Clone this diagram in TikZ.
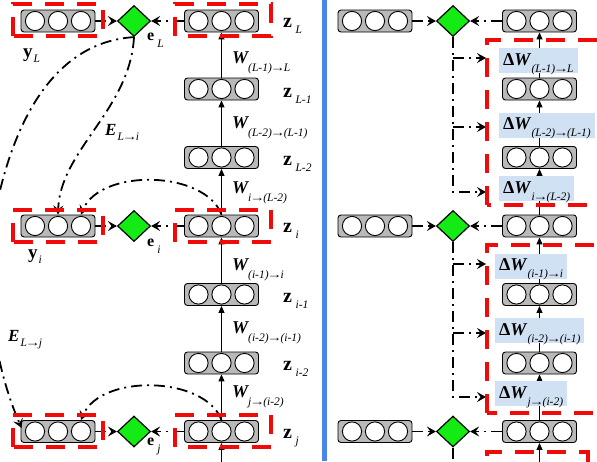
\documentclass[tikz,border=0pt]{standalone}
\usepackage{fontspec}
\usepackage{graphicx}
\setmainfont{Liberation Serif}
\usetikzlibrary{arrows.meta,shapes.geometric}
\definecolor{boxgray}{RGB}{185,185,185}
\definecolor{errgreen}{RGB}{20,235,20}
\definecolor{dwblue}{RGB}{207,225,242}
\definecolor{divblue}{RGB}{74,134,232}
\definecolor{hlred}{RGB}{240,10,10}
% label helpers: bold symbol with a lowered italic index
\newcommand\rarr{\kern-1.5pt\scalebox{1.3}[1.0]{→}\kern-1.5pt}
\newcommand\lblsub[2]{\raisebox{-#1}{\fontsize{11.5}{12}\selectfont\itshape #2}}
\newcommand\lblz[1]{{\fontsize{20}{20}\selectfont\bfseries z}\hspace{3.5pt}\lblsub{6pt}{#1}}
\newcommand\lblw[1]{{\fontsize{18}{20}\selectfont\bfseries\itshape W}\lblsub{8pt}{#1}}
\newcommand\lbldw[1]{{\fontsize{18}{20}\selectfont\bfseries Δ\textit{W}}\lblsub{7pt}{#1}}
\newcommand\lbly[1]{{\fontsize{19}{20}\selectfont\bfseries y}\hspace{1pt}\lblsub{5pt}{#1}}
\newcommand\lble[1]{{\fontsize{16}{16}\selectfont\bfseries e}\hspace{3pt}\lblsub{7pt}{#1}}
\newcommand\lblE[1]{{\fontsize{17}{17}\selectfont\bfseries\itshape E}\hspace{1pt}\lblsub{5pt}{#1}}
\begin{document}
\begin{tikzpicture}[x=1pt,y=-1pt,
  layer/.style={rectangle,rounded corners=3pt,draw=black,line width=0.9pt,fill=boxgray,
    minimum width=74pt,minimum height=22pt,inner sep=0pt,
    path picture={\foreach \dx in {-23,0,23}
      \draw[line width=0.9pt,fill=white] ([xshift=\dx pt]path picture bounding box.center) circle (9.6pt);}},
  errnode/.style={diamond,aspect=1,draw=black,line width=1.2pt,fill=errgreen,
    minimum width=33pt,minimum height=31pt,inner sep=0pt},
  hlbox/.style={draw=hlred,line width=4pt,dash pattern=on 19pt off 13pt},
  dd/.style={line width=1.8pt,dash pattern=on 11pt off 5pt on 2pt off 5pt},
  sarrow/.style={-{Stealth[length=9pt,width=10pt,inset=3.5pt]}},
  uparrow/.style={line width=1pt,-{Triangle[length=7pt,width=6pt]}},
  lbl/.style={anchor=base west,inner sep=0pt},
  dwlabel/.style={anchor=west,fill=dwblue,inner xsep=4pt,inner ysep=3pt,
    text height=14pt,text depth=5pt}
]
\useasboundingbox (0,0) rectangle (597,461);
\clip (0,0) rectangle (597,461);

% ---------- left panel: forward pass with per-layer errors ----------
\node[layer] (yL) at (58,21) {};
\node[errnode] (eL) at (134,21) {};
\node[layer] (zL) at (221.5,21) {};
\node[layer] (zL1) at (221.5,89) {};
\node[layer] (zL2) at (221.5,157.5) {};
\node[layer] (yi) at (58,226) {};
\node[errnode] (ei) at (134,226) {};
\node[layer] (zi) at (221.5,226) {};
\node[layer] (zi1) at (221.5,294.5) {};
\node[layer] (zi2) at (221.5,363) {};
\node[layer] (yj) at (58,431.5) {};
\node[errnode] (ej) at (134,431.5) {};
\node[layer] (zj) at (221.5,431.5) {};
\coordinate (zjin) at (221.5,475);
\coordinate (yi3) at ([xshift=23pt]yi.north);
\coordinate (yj3) at ([xshift=23pt]yj.north);
\coordinate (yjin) at ([shift={(1pt,3.5pt)}]yj.west);

\draw[uparrow] (zL1.north) -- (zL.south);
\draw[uparrow] (zL2.north) -- (zL1.south);
\draw[uparrow] (zi.north) -- (zL2.south);
\draw[uparrow] (zi1.north) -- (zi.south);
\draw[uparrow] (zi2.north) -- (zi1.south);
\draw[uparrow] (zj.north) -- (zi2.south);
\draw[uparrow] (zjin) -- (zj.south);

\foreach \y/\e/\z in {yL/eL/zL, yi/ei/zi, yj/ej/zj}{
  \draw[dd,sarrow] (\y.east) -- (\e.west);
  \draw[dd,sarrow] (\z.west) -- (\e.east);
}

% error targets fed back to lower layers
\draw[dd,sarrow] (eL.south) .. controls (130,110) and (60,150) .. (yi.north);
\draw[dd,sarrow] (eL.south) .. controls (55,42) and (10,120) .. (-8,230)
  .. controls (-16,320) and (3,385) .. (yjin);
\draw[dd,sarrow] (zi.north) .. controls (205,170) and (100,168) .. (yi3);
\draw[dd,sarrow] (zj.north) .. controls (205,375.5) and (100,373.5) .. (yj3);

% labels
\node[lbl] at (23,57) {\lbly{L}};
\node[lbl] at (28,258) {\lbly{i}};
\node[lbl] at (147,40) {\lble{L}};
\node[lbl] at (147,246) {\lble{i}};
\node[lbl] at (147,445) {\lble{j}};
\node[lbl] at (105,135) {\lblE{L\rarr i}};
\node[lbl] at (8,341) {\lblE{L\rarr j}};
\node[lbl] at (283,27) {\lblz{L}};
\node[lbl] at (283,97) {\lblz{L-1}};
\node[lbl] at (283,165) {\lblz{L-2}};
\node[lbl] at (283,232) {\lblz{i}};
\node[lbl] at (283,302) {\lblz{i-1}};
\node[lbl] at (283,370) {\lblz{i-2}};
\node[lbl] at (283,438) {\lblz{j}};
\node[lbl] at (232,63) {\lblw{(L-1)\rarr L}};
\node[lbl] at (232,128) {\lblw{(L-2)\rarr (L-1)}};
\node[lbl] at (232,193) {\lblw{i\rarr (L-2)}};
\node[lbl] at (232,270) {\lblw{(i-1)\rarr i}};
\node[lbl] at (232,333) {\lblw{(i-2)\rarr (i-1)}};
\node[lbl] at (232,397) {\lblw{j\rarr (i-2)}};

% highlighted groups
\draw[hlbox] (13,36) rectangle (103,4);
\draw[hlbox] (175,36) rectangle (271,4);
\draw[hlbox] (13,242) rectangle (103,210);
\draw[hlbox] (175,242) rectangle (271,210);
\draw[hlbox] (13,447) rectangle (103,415);
\draw[hlbox] (175,447) rectangle (271,415);

% divider
\draw[divblue,line width=4.5pt] (324.5,0) -- (324.5,461);

% ---------- right panel: local weight updates ----------
\node[layer] (rL) at (375,21) {};
\node[errnode] (dL) at (453,21) {};
\node[layer] (sL) at (539.5,21) {};
\node[layer] (sL1) at (539.5,89) {};
\node[layer] (sL2) at (539.5,157.5) {};
\node[layer] (ri) at (375,226) {};
\node[errnode] (di) at (453,226) {};
\node[layer] (si) at (539.5,226) {};
\node[layer] (si1) at (539.5,294.5) {};
\node[layer] (si2) at (539.5,363) {};
\node[layer] (rj) at (375,431.5) {};
\node[errnode] (dj) at (453,431.5) {};
\node[layer] (sj) at (539.5,431.5) {};
\coordinate (sjin) at (539.5,475);
\coordinate (djout) at (453,475);

\draw[uparrow] (sL1.north) -- (sL.south);
\draw[uparrow] (sL2.north) -- (sL1.south);
\draw[uparrow] (si.north) -- (sL2.south);
\draw[uparrow] (si1.north) -- (si.south);
\draw[uparrow] (si2.north) -- (si1.south);
\draw[uparrow] (sj.north) -- (si2.south);
\draw[uparrow] (sjin) -- (sj.south);

\foreach \r/\d/\s in {rL/dL/sL, ri/di/si, rj/dj/sj}{
  \draw[dd,sarrow] (\r.east) -- (\d.west);
  \draw[dd,sarrow] (\s.west) -- (\d.east);
}

\coordinate (aL1) at (486,58);
\coordinate (aL2) at (486,127);
\coordinate (aL3) at (486,192);
\coordinate (ai1) at (486,264);
\coordinate (ai2) at (486,333);
\coordinate (ai3) at (486,397);
\draw[dd,sarrow] (dL.south) |- (aL3);
\draw[dd,sarrow] (dL.south |- aL1) -- (aL1);
\draw[dd,sarrow] (dL.south |- aL2) -- (aL2);
\draw[dd,sarrow] (di.south) |- (ai3);
\draw[dd,sarrow] (di.south |- ai1) -- (ai1);
\draw[dd,sarrow] (di.south |- ai2) -- (ai2);
\draw[dd] (dj.south) -- (djout);

\node[dwlabel] (dw1) at (499,60.5) {\lbldw{(L-1)\rarr L}};
\node[dwlabel] (dw2) at (499,125) {\lbldw{(L-2)\rarr (L-1)}};
\node[dwlabel] (dw3) at (499,188.5) {\lbldw{i\rarr (L-2)}};
\node[dwlabel] (dw4) at (495,266) {\lbldw{(i-1)\rarr i}};
\node[dwlabel] (dw5) at (495,330.5) {\lbldw{(i-2)\rarr (i-1)}};
\node[dwlabel] (dw6) at (495,393.5) {\lbldw{j\rarr (i-2)}};

\draw[hlbox] (487,205) rectangle (612,40);
\draw[hlbox] (487,413) rectangle (612,245);
\draw[hlbox] (487,520) rectangle (588,452);
\end{tikzpicture}
\end{document}
